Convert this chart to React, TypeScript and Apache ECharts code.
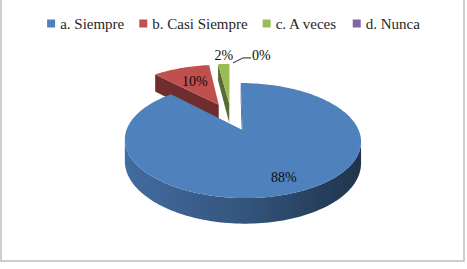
import React, { useEffect, useRef } from 'react';
import * as echarts from 'echarts';

const categories = ['a. Siempre', 'b. Casi Siempre', 'c. A veces', 'd. Nunca'];
const values = [88, 10, 2, 0];
const colors = ['#4F81BD', '#C0504D', '#9BBB59', '#8064A2'];

// 3D pie projection settings (style, not data)
const CX = 231;
const CY = 116.7;
const RX = 111;
const RY = 50.8;
const K = 0.175;
const DEPTH = 20;
const EXPLODE = 0.27;
const FONT = 'serif';

const total = values.reduce((a, b) => a + b, 0);
const starts: number[] = [];
values.reduce((acc, v, i) => {
  starts[i] = acc;
  return acc + (v / total) * Math.PI * 2;
}, 0);

function proj(u: number, w: number, h: number): number[] {
  const s = 1 - K * w;
  return [CX + (RX * u) / s, CY + (RY * w + DEPTH * h) / s];
}

function area(pts: number[][]): number {
  let s = 0;
  for (let i = 0; i < pts.length; i++) {
    const a = pts[i];
    const b = pts[(i + 1) % pts.length];
    s += a[0] * b[1] - b[0] * a[1];
  }
  return s / 2;
}

function shade(hex: string, f: number): string {
  const n = parseInt(hex.slice(1), 16);
  const r = Math.round(((n >> 16) & 255) * f);
  const g = Math.round(((n >> 8) & 255) * f);
  const b = Math.round((n & 255) * f);
  return `rgb(${r},${g},${b})`;
}

function renderItem(params: any, api: any) {
  const i = params.dataIndex;
  const v = api.value(0) as number;
  const a0 = starts[i];
  const a1 = a0 + (v / total) * Math.PI * 2;
  const mid = (a0 + a1) / 2;
  const ou = EXPLODE * Math.sin(mid);
  const ow = -EXPLODE * Math.cos(mid);
  const pt = (t: number, r: number, h: number) =>
    proj(ou + r * Math.sin(t), ow - r * Math.cos(t), h);
  const base = colors[i];
  const children: any[] = [];

  if (v > 0) {
    const n = Math.max(2, Math.ceil((a1 - a0) / (Math.PI / 120)));
    const th: number[] = [];
    for (let j = 0; j <= n; j++) th.push(a0 + ((a1 - a0) * j) / n);

    const runs: number[][] = [];
    let cur: number[] | null = null;
    for (let j = 0; j < n; j++) {
      const q = [pt(th[j], 1, 0), pt(th[j + 1], 1, 0), pt(th[j + 1], 1, 1), pt(th[j], 1, 1)];
      if (area(q) < 0) {
        if (!cur) {
          cur = [j, j + 1];
          runs.push(cur);
        } else cur[1] = j + 1;
      } else cur = null;
    }
    runs.forEach((run) => {
      const top: number[][] = [];
      const bot: number[][] = [];
      for (let j = run[0]; j <= run[1]; j++) {
        top.push(pt(th[j], 1, 0));
        bot.push(pt(th[j], 1, 1));
      }
      children.push({
        type: 'polygon',
        z2: 1,
        shape: { points: top.concat(bot.reverse()) },
        style: {
          fill: new echarts.graphic.LinearGradient(0, 0, 1, 0, [
            { offset: 0, color: shade(base, 0.84) },
            { offset: 0.5, color: shade(base, 0.66) },
            { offset: 1, color: shade(base, 0.4) },
          ]),
        },
      });
    });

    const f1 = [pt(a0, 1, 0), pt(a0, 1, 1), pt(a0, 0, 1), pt(a0, 0, 0)];
    const f2 = [pt(a1, 1, 1), pt(a1, 1, 0), pt(a1, 0, 0), pt(a1, 0, 1)];
    [f1, f2].forEach((f) => {
      if (area(f) < 0) {
        children.push({
          type: 'polygon',
          z2: 2,
          shape: { points: f },
          style: { fill: shade(base, 0.58) },
        });
      }
    });

    const topPts: number[][] = [pt(0, 0, 0)];
    for (let j = n; j >= 0; j--) topPts.push(pt(th[j], 1, 0));
    children.push({
      type: 'polygon',
      z2: 5,
      shape: { points: topPts },
      style: { fill: base },
    });
  }

  const pct = `${Math.round((v / total) * 100)}%`;
  const share = v / total;
  const textStyle = (text: string, x: number, y: number, align: string) => ({
    type: 'text',
    z2: 10,
    style: {
      text,
      x,
      y,
      fill: '#0d0d0d',
      fontSize: 14,
      fontFamily: FONT,
      align,
      verticalAlign: 'middle',
    },
  });
  if (share >= 0.05) {
    const r = share > 0.5 ? 0.8 : 0.6;
    const p = pt(mid, r, 0);
    children.push(textStyle(pct, p[0], p[1], 'center'));
  } else if (v > 0) {
    const p = pt(mid, 1, 0);
    children.push(textStyle(pct, p[0], p[1] - 9, 'center'));
  } else {
    const p = pt(mid, 1, 0);
    children.push({
      type: 'polyline',
      z2: 10,
      shape: {
        points: [
          [p[0] + 2, p[1] - 1],
          [p[0] + 12, p[1] - 6],
          [p[0] + 20, p[1] - 6],
        ],
      },
      style: { stroke: '#222', lineWidth: 1, fill: null },
    });
    children.push(textStyle(pct, p[0] + 21, p[1] - 8, 'left'));
  }

  return { type: 'group', children };
}

export default function App() {
  const ref = useRef<HTMLDivElement>(null);
  useEffect(() => {
    if (!ref.current) return;
    const chart = echarts.init(ref.current, null, { renderer: 'svg' });
    chart.setOption({
      animation: false,
      backgroundColor: '#ffffff',
      legend: {
        data: categories,
        top: 11,
        left: 'center',
        icon: 'rect',
        itemWidth: 8,
        itemHeight: 8,
        itemGap: 15,
        selectedMode: false,
        textStyle: { fontFamily: FONT, fontSize: 15, color: '#262626' },
      },
      graphic: [
        {
          type: 'rect',
          shape: { x: 1, y: -1, width: 463, height: 262 },
          style: { fill: 'none', stroke: '#bdbdbd', lineWidth: 1.5 },
          silent: true,
        },
      ],
      series: [
        {
          type: 'custom',
          name: 'pie3d',
          coordinateSystem: 'none',
          silent: true,
          data: values,
          renderItem,
        },
        ...categories.map((c, i) => ({
          type: 'custom',
          name: c,
          coordinateSystem: 'none',
          data: [],
          itemStyle: { color: colors[i] },
          renderItem: () => null,
        })),
      ],
    });
    return () => chart.dispose();
  }, []);
  return (
    <div
      ref={ref}
      style={{ position: 'fixed', left: 0, top: 0, width: 467, height: 269 }}
    />
  );
}
